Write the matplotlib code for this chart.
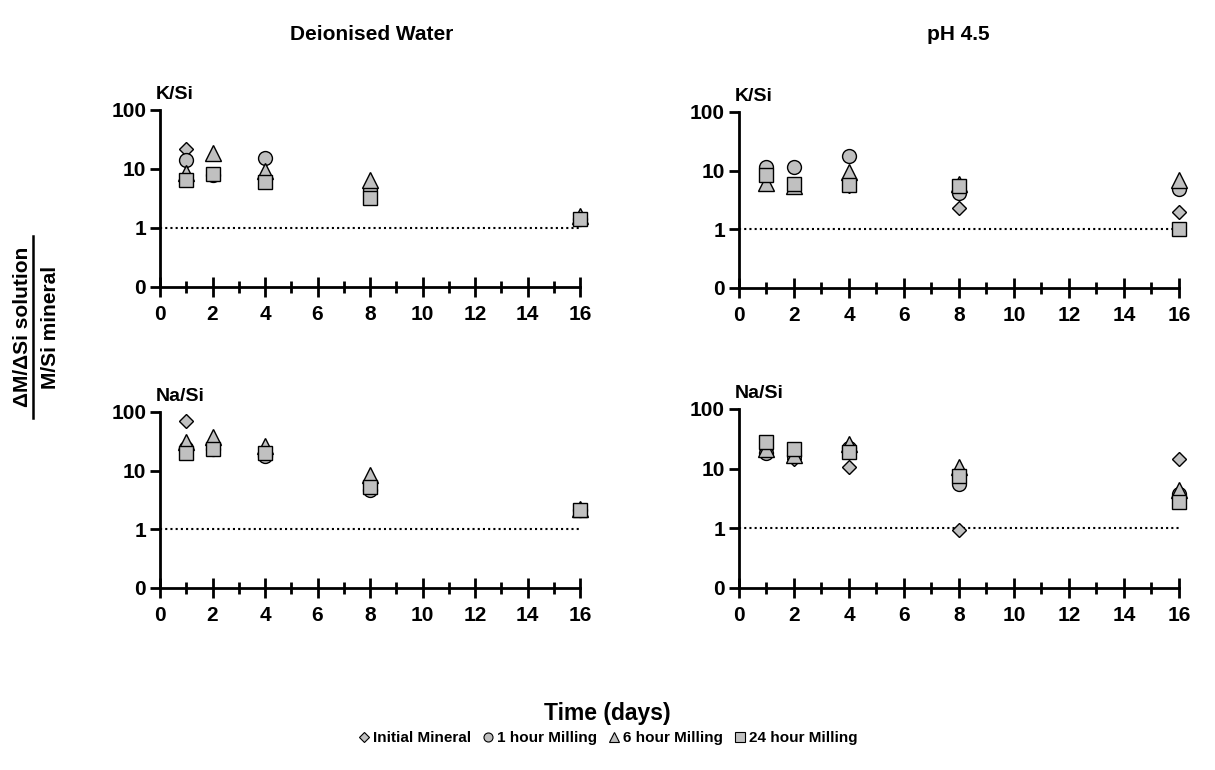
import numpy as np
import matplotlib
matplotlib.use("Agg")
import matplotlib.pyplot as plt
from matplotlib.ticker import FixedLocator, FixedFormatter, MultipleLocator
from matplotlib.lines import Line2D

plt.rcParams['font.family'] = ['Liberation Sans', 'DejaVu Sans']
plt.rcParams['font.weight'] = 'bold'

days = [1, 2, 4, 8, 16]
series = ["Initial Mineral", "1 hour Milling", "6 hour Milling", "24 hour Milling"]

# K/Si, deionised water
k_water_initial = [22, 8, 6, 4.2, 1.4]
k_water_1h = [14, 8, 15.6, 4.4, 1.4]
k_water_6h = [8.5, 19, 9.4, 6.6, 1.6]
k_water_24h = [6.6, 8.1, 5.9, 3.2, 1.4]

# K/Si, pH 4.5
k_ph_initial = [9.5, 5.2, 5.5, 2.35, 2.0]
k_ph_1h = [11.7, 11.7, 17.8, 4.2, 4.8]
k_ph_6h = [6.1, 5.5, 9.6, 6.0, 7.0]
k_ph_24h = [8.3, 5.9, 5.8, 5.4, 1.0]

# Na/Si, deionised water
na_water_initial = [71, 23, 20, 5.5, 2.1]
na_water_1h = [24, 23, 18, 4.6, 2.1]
na_water_6h = [31, 38, 26, 8.3, 2.2]
na_water_24h = [20, 23, 20, 5.3, 2.15]

# Na/Si, pH 4.5
na_ph_initial = [21, 14.7, 10.5, 0.93, 14.7]
na_ph_1h = [18, 16, 22, 5.6, 3.8]
na_ph_6h = [21, 17, 26, 10.5, 4.3]
na_ph_24h = [27.5, 21.5, 18.7, 7.6, 2.75]

panels = [
    ("K/Si", [k_water_initial, k_water_1h, k_water_6h, k_water_24h]),
    ("K/Si", [k_ph_initial, k_ph_1h, k_ph_6h, k_ph_24h]),
    ("Na/Si", [na_water_initial, na_water_1h, na_water_6h, na_water_24h]),
    ("Na/Si", [na_ph_initial, na_ph_1h, na_ph_6h, na_ph_24h]),
]

markers = ["D", "o", "^", "s"]
sizes = [7.5, 10, 11, 10.5]
fill = "#c0c0c0"

fig = plt.figure(figsize=(12.15, 7.7), dpi=100)

rects = [
    [0.1317, 0.6273, 0.3457, 0.2299],
    [0.6082, 0.6260, 0.3621, 0.2286],
    [0.1317, 0.2364, 0.3457, 0.2286],
    [0.6082, 0.2364, 0.3621, 0.2325],
]

for rect, (label, data) in zip(rects, panels):
    ax = fig.add_axes(rect)
    ax.set_yscale('log')
    ax.set_ylim(0.1, 100)
    ax.set_xlim(0, 16)
    ax.plot([0, 16], [1, 1], color='black', linestyle=(0, (1, 1.5)), linewidth=1.5, zorder=1)
    for vals, m, ms in zip(data, markers, sizes):
        ax.plot(days, vals, linestyle='none', marker=m, markersize=ms,
                markerfacecolor=fill, markeredgecolor='black', markeredgewidth=1.0,
                clip_on=False, zorder=3)
    for side in ['top', 'right']:
        ax.spines[side].set_visible(False)
    for side in ['left', 'bottom']:
        ax.spines[side].set_linewidth(2)
    ax.yaxis.set_major_locator(FixedLocator([0.1, 1, 10, 100]))
    ax.yaxis.set_major_formatter(FixedFormatter(["0", "1", "10", "100"]))
    ax.yaxis.set_minor_locator(FixedLocator([]))
    ax.xaxis.set_major_locator(MultipleLocator(2))
    ax.xaxis.set_minor_locator(MultipleLocator(1))
    ax.tick_params(axis='y', which='major', direction='out', length=7, width=2,
                   labelsize=15, pad=3)
    ax.tick_params(axis='x', which='major', direction='inout', length=14, width=2,
                   labelsize=15, pad=6)
    ax.tick_params(axis='x', which='minor', direction='inout', length=9, width=2)
    for t in ax.get_xticklabels() + ax.get_yticklabels():
        t.set_fontweight('bold')
    ax.text(-0.01, 1.04, label, transform=ax.transAxes, fontsize=14,
            fontweight='bold', ha='left', va='bottom')

fig.text(0.306, 0.955, "Deionised Water", ha='center', va='center', fontsize=15, fontweight='bold')
fig.text(0.789, 0.955, "pH 4.5", ha='center', va='center', fontsize=15, fontweight='bold')

# y label drawn as a fraction
x_bar = 0.0275
y_mid = 0.575
fig.text(x_bar - 0.001, y_mid, "\u0394M/\u0394Si solution", rotation=90, ha='right', va='center',
         fontsize=15, fontweight='bold')
fig.text(x_bar + 0.006, y_mid, "M/Si mineral", rotation=90, ha='left', va='center',
         fontsize=15, fontweight='bold')
fig.add_artist(Line2D([x_bar, x_bar], [y_mid - 0.118, y_mid + 0.118], color='black',
                      linewidth=1.8, transform=fig.transFigure))

fig.text(0.4996, 0.074, "Time (days)", ha='center', va='center', fontsize=16.5, fontweight='bold')

handles = [Line2D([], [], linestyle='none', marker=m, markersize=ms * 0.65,
                  markerfacecolor=fill, markeredgecolor='black', markeredgewidth=0.8)
           for m, ms in zip(markers, sizes)]
fig.legend(handles, series, loc='center', bbox_to_anchor=(0.4996, 0.041), ncol=4,
           frameon=False, handletextpad=0.1, columnspacing=0.6, handlelength=1.0,
           prop={'weight': 'bold', 'size': 11})

fig.savefig("out.png", dpi=100)
